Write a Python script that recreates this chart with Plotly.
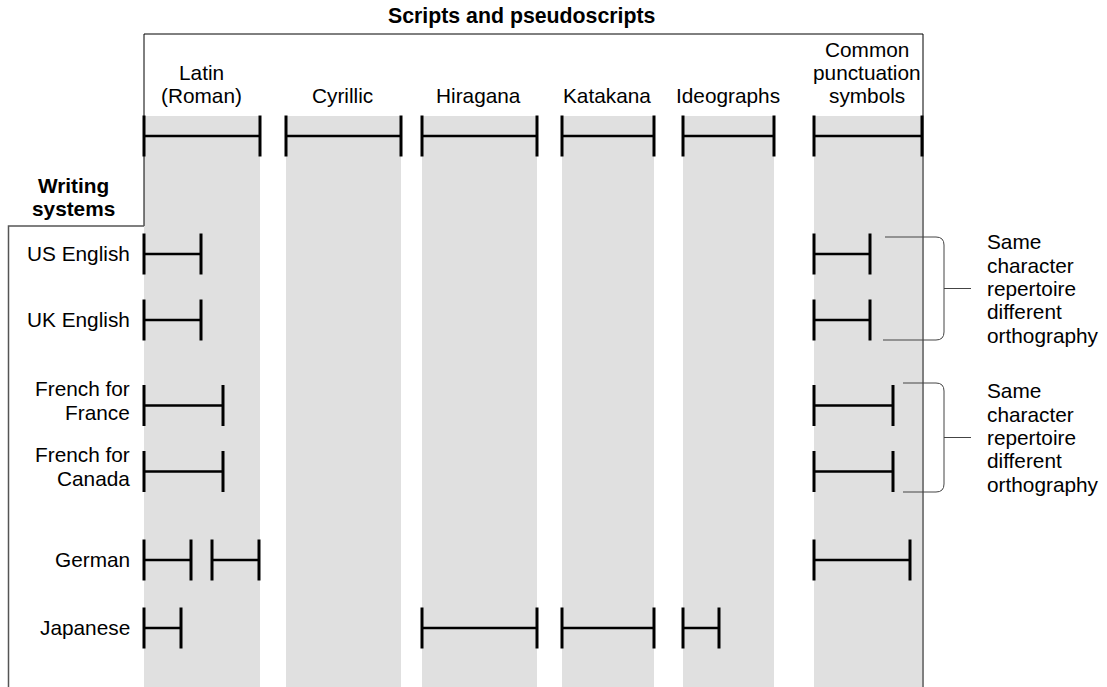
import plotly.graph_objects as go

# ------------------------------------------------------------------ data
scripts = ["Latin<br>(Roman)", "Cyrillic", "Hiragana", "Katakana",
           "Ideographs", "Common<br>punctuation<br>symbols"]
# extent of each script on the character-repertoire axis
script_start = [0, 142, 278, 418, 539, 670]
script_end = [116, 257, 393, 510, 630, 778]

writing_systems = ["US English", "UK English", "French for<br>France",
                   "French for<br>Canada", "German", "Japanese"]
# portions of the repertoire used by each writing system (start, end)
us_english = [(0, 57), (670, 726)]
uk_english = [(0, 57), (670, 726)]
french_france = [(0, 79), (670, 749)]
french_canada = [(0, 79), (670, 749)]
german = [(0, 47), (68, 115), (670, 766)]
japanese = [(0, 37), (278, 393), (418, 510), (539, 575)]
spans = [us_english, uk_english, french_france, french_canada, german, japanese]

title_text = "Scripts and pseudoscripts"
row_title = "Writing<br>systems"
bracket_text = "Same<br>character<br>repertoire<br>different<br>orthography"

# ------------------------------------------------------------------ layout constants
W, H = 1107, 687
X0 = 144                      # screen pixel of repertoire position 0
row_y = [254, 320, 405.5, 471.5, 560, 628]
header_y = 136
tick_h = 20.5
col_top = 116
FONT = "Liberation Sans, Arial, Helvetica, sans-serif"
FS = 20.8
LS = 23.3                     # line spacing
MID = 7.2                     # baseline - visual centre of annotation box


def px(p):
    """screen pixel x -> axis units"""
    return p - X0


tick_x, tick_y, bar_x, bar_y = [], [], [], []


def add_span(x0, x1, y):
    for xx in (x0, x1):
        tick_x.extend([xx, xx, None])
        tick_y.extend([y - tick_h, y + tick_h, None])
    bar_x.extend([x0, x1, None])
    bar_y.extend([y, y, None])


for s, e in zip(script_start, script_end):
    add_span(s, e, header_y)
for row, sp in zip(row_y, spans):
    for s, e in sp:
        add_span(s, e, row)

fig = go.Figure()
fig.add_trace(go.Scatter(x=bar_x, y=bar_y, mode="lines",
                         line=dict(color="black", width=2.7),
                         hoverinfo="skip", showlegend=False))
fig.add_trace(go.Scatter(x=tick_x, y=tick_y, mode="lines",
                         line=dict(color="black", width=3),
                         hoverinfo="skip", showlegend=False))

shapes = []
for s, e in zip(script_start, script_end):
    shapes.append(dict(type="rect", xref="x", yref="y", x0=s, x1=e,
                       y0=col_top, y1=H + 10, fillcolor="#e0e0e0",
                       line=dict(width=0), layer="below"))

xl, xr = script_start[0], script_end[-1] + 1
shapes.append(dict(type="path", xref="x", yref="y",
                   path=f"M {xr},{H + 10} L {xr},34 L {xl},34 L {xl},226",
                   line=dict(color="black", width=1)))
shapes.append(dict(type="path", xref="x", yref="y",
                   path=f"M {xl},226 L {px(8.5)},226 L {px(8.5)},{H + 10}",
                   line=dict(color="#555555", width=1.5)))

# brackets
bx, btick, r = px(944), px(971), 8
brackets = [dict(top=237, bottom=340, xt=px(885), xb=px(883)),
            dict(top=383, bottom=492, xt=px(903), xb=px(903))]
annotations = []


def add_lines(x, centres, lines, xanchor, bold=False, size=FS):
    for c, t in zip(centres, lines):
        annotations.append(dict(x=x, y=c, xref="x", yref="y",
                                text=f"<b>{t}</b>" if bold else t,
                                showarrow=False, xanchor=xanchor, yanchor="middle",
                                font=dict(family=FONT, size=size, color="black")))


for b in brackets:
    t, bt = b["top"], b["bottom"]
    mid = (t + bt) / 2
    shapes.append(dict(type="path", xref="x", yref="y",
                       path=(f"M {b['xt']},{t} L {bx - r},{t} Q {bx},{t} {bx},{t + r} "
                             f"L {bx},{bt - r} Q {bx},{bt} {bx - r},{bt} L {b['xb']},{bt}"),
                       line=dict(color="#444444", width=1)))
    shapes.append(dict(type="line", xref="x", yref="y", x0=bx, x1=btick, y0=mid, y1=mid,
                       line=dict(color="#444444", width=1)))
    lines = bracket_text.split("<br>")
    add_lines(px(985), [mid + (i - 2) * LS for i in range(len(lines))], lines, "left")

# column labels (bottom-aligned, last baseline at 103)
for lab, s, e in zip(scripts, script_start, script_end):
    lines = lab.split("<br>")
    n = len(lines)
    cx = (s + e) / 2 - 1
    add_lines(cx, [103 - MID - (n - 1 - i) * LS for i in range(n)], lines, "center")

# row labels
for lab, y in zip(writing_systems, row_y):
    lines = lab.split("<br>")
    n = len(lines)
    first = y + 7 - 16.6 * (n - 1)
    add_lines(px(132), [first - MID + i * LS for i in range(n)], lines, "right")

# titles
add_lines(px(521), [23.5 - 7.4], [title_text], "center", bold=True, size=21.3)
rt = row_title.split("<br>")
add_lines(px(73), [193 - MID, 216 - MID], rt, "center", bold=True)

fig.update_layout(
    width=W, height=H, margin=dict(l=0, r=0, t=0, b=0),
    paper_bgcolor="white", plot_bgcolor="white",
    xaxis=dict(range=[px(0), px(W)], visible=False, fixedrange=True),
    yaxis=dict(range=[H, 0], visible=False, fixedrange=True),
    shapes=shapes, annotations=annotations, showlegend=False,
    hovermode=False,
)
# remove the default 8px page margin so the figure fills the window exactly
fig.write_html("out.html",
               config={"displayModeBar": False, "staticPlot": True},
               post_script="document.body.style.margin='0';"
                           "document.body.style.overflow='hidden';")
